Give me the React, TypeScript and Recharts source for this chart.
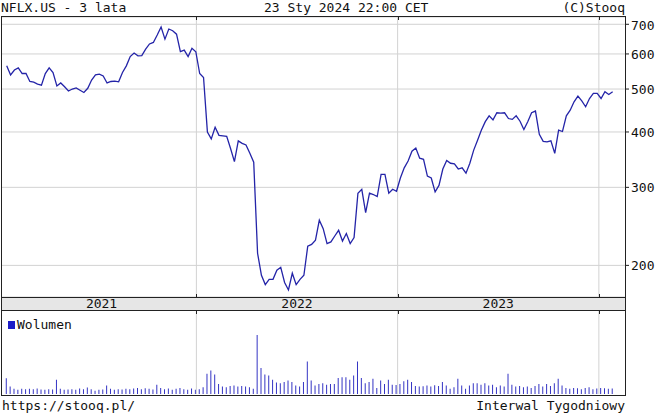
import { LineChart, Line, BarChart, Bar, XAxis, YAxis, CartesianGrid, ReferenceLine } from 'recharts';

// tygodniowe notowania NFLX, pierwszy tydzień 22.01.2021
const START = Date.UTC(2021, 0, 22);
const WEEK = 7 * 24 * 3600 * 1000;

// kursy zamknięcia (USD)
const closes = [
  564, 538, 552, 558, 542, 542, 520, 518, 513, 510, 542, 558, 545, 508, 516, 506, 495, 500, 503, 497,
  491, 502, 524, 538, 540, 535, 516, 520, 521, 519, 545, 564, 592, 603, 594, 595, 615, 632, 637, 662,
  690, 648, 683, 677, 665, 607, 612, 592, 618, 607, 542, 531, 400, 386, 410, 393, 392, 391, 367, 343,
  382, 377, 374, 358, 342, 213, 190, 181, 186, 186, 195, 198, 183, 176, 192, 181, 186, 190, 221, 223,
  228, 253, 242, 224, 226, 233, 240, 227, 236, 224, 231, 291, 297, 263, 291, 289, 286, 321, 321, 291,
  297, 294, 315, 332, 344, 362, 368, 349, 347, 318, 315, 293, 303, 330, 345, 340, 339, 330, 332, 323,
  340, 364, 383, 404, 422, 435, 426, 442, 441, 442, 429, 427, 435, 423, 405, 422, 442, 446, 395, 381,
  380, 382, 358, 404, 401, 435, 448, 468, 482, 470, 456, 476, 489, 489, 476, 493, 486, 493,
];

// wolumen tygodniowy (mln szt.)
const volumes = [
  61, 29, 20, 16, 20, 18, 20, 18, 21, 17, 16, 18, 17, 55, 20, 16, 17, 18, 16, 21,
  18, 25, 18, 13, 16, 17, 33, 20, 16, 18, 17, 20, 18, 21, 23, 18, 22, 20, 17, 36,
  23, 18, 21, 16, 20, 23, 18, 16, 21, 16, 18, 26, 78, 91, 75, 39, 29, 26, 31, 33,
  29, 31, 29, 26, 20, 228, 101, 75, 72, 55, 44, 42, 46, 52, 46, 33, 29, 46, 126, 52,
  33, 39, 42, 36, 39, 39, 62, 65, 65, 55, 72, 126, 62, 42, 46, 59, 23, 52, 39, 55,
  36, 35, 39, 49, 55, 46, 31, 29, 30, 33, 29, 34, 31, 46, 33, 20, 26, 59, 33, 20,
  33, 42, 42, 36, 42, 33, 36, 26, 33, 29, 78, 36, 29, 31, 26, 29, 23, 31, 39, 29,
  39, 31, 42, 59, 33, 23, 20, 23, 22, 18, 23, 26, 18, 21, 23, 22, 20, 21,
];

const priceTicks = [200, 300, 400, 500, 600, 700];
const yearLabels = ['2021', '2022', '2023'];
const yearStarts = ['2022-01-01', '2023-01-01', '2024-01-01'];

const rows = closes.map((c, i) => ({ t: START + i * WEEK, close: c, vol: volumes[i] }));

const X_DOMAIN = [START - 1.22 * WEEK, START + 160.2 * WEEK];
const PLOT_LEFT = 2;
const PLOT_W = 623;
const FONT = '"DejaVu Sans Mono", monospace';
const GRID = '#d2d2d2';
const DARK = '#222';

const boundaries = yearStarts.map((d) => Date.parse(d));
const xPx = (t: number) => PLOT_LEFT + ((t - X_DOMAIN[0]) / (X_DOMAIN[1] - X_DOMAIN[0])) * PLOT_W;

// środki etykiet lat
const labelCenters = yearLabels.map((_, i) => {
  const from = i === 0 ? rows[0].t : boundaries[i - 1];
  return (xPx(from) + xPx(boundaries[i])) / 2;
});

const abs = (s: React.CSSProperties): React.CSSProperties => ({ position: 'absolute', ...s });

export default function App() {
  return (
    <div style={{ position: 'fixed', left: 0, top: 0, width: 655, height: 416, background: '#fff', fontFamily: FONT, fontSize: 13, color: '#111' }}>
      {/* nagłówek */}
      <div style={abs({ left: 1, top: 0, lineHeight: '16px' })}>NFLX.US - 3 lata</div>
      <div style={abs({ left: 264, top: 0, lineHeight: '16px' })}>23 Sty 2024 22:00 CET</div>
      <div style={abs({ right: 30, top: 0, lineHeight: '16px' })}>(C)Stooq</div>

      {/* kurs */}
      <div style={abs({ left: PLOT_LEFT, top: 17 })}>
        <LineChart width={653} height={280} data={rows} margin={{ top: 0, right: 0, bottom: 0, left: 0 }}>
          <CartesianGrid stroke={GRID} vertical={false} />
          <XAxis dataKey="t" type="number" domain={X_DOMAIN} hide allowDataOverflow />
          <YAxis
            orientation="right"
            width={30}
            scale="log"
            domain={[169.7, 727]}
            ticks={priceTicks}
            allowDataOverflow
            axisLine={false}
            tickLine={{ stroke: DARK }}
            tickSize={4}
            tickMargin={2}
            tick={{ fill: '#111', fontSize: 13, fontFamily: FONT }}
          />
          {boundaries.map((b) => (
            <ReferenceLine key={b} x={b} stroke={GRID} />
          ))}
          <Line dataKey="close" stroke="#2424a8" strokeWidth={1.3} dot={false} isAnimationActive={false} />
        </LineChart>
      </div>

      {/* pasek lat */}
      <div style={abs({ left: 1, top: 298, width: 624, height: 12, background: '#e6e6e6' })} />
      {yearLabels.map((y, i) => (
        <div key={y} style={abs({ left: labelCenters[i] - 20, width: 40, top: 297, textAlign: 'center', lineHeight: '14px' })}>
          {y}
        </div>
      ))}

      {/* wolumen */}
      <div style={abs({ left: PLOT_LEFT, top: 311 })}>
        <BarChart width={PLOT_W} height={83} data={rows} margin={{ top: 0, right: 0, bottom: 0, left: 0 }}>
          <XAxis dataKey="t" type="number" domain={X_DOMAIN} hide allowDataOverflow />
          <YAxis hide domain={[0, 321]} />
          {boundaries.map((b) => (
            <ReferenceLine key={b} x={b} stroke={GRID} />
          ))}
          <Bar dataKey="vol" fill="#3434c4" barSize={1} isAnimationActive={false} />
        </BarChart>
      </div>
      <div style={abs({ left: 8, top: 321, width: 7, height: 8, background: '#1c1cc8' })} />
      <div style={abs({ left: 17, top: 318, lineHeight: '14px' })}>Wolumen</div>

      {/* ramki */}
      <div style={abs({ left: 1, top: 16, width: 625, height: 380, border: `1px solid ${DARK}`, boxSizing: 'border-box' })} />
      <div style={abs({ left: 1, top: 297, width: 625, height: 1, background: DARK })} />
      <div style={abs({ left: 1, top: 310, width: 625, height: 1, background: DARK })} />
      {boundaries.map((b) => {
        const x = Math.round(xPx(b));
        return [17, 294, 311].map((y) => (
          <div key={`${b}-${y}`} style={abs({ left: x, top: y, width: 1, height: 3, background: DARK })} />
        ));
      })}

      {/* stopka */}
      <div style={abs({ left: 2, top: 398, lineHeight: '16px' })}>https://stooq.pl/</div>
      <div style={abs({ right: 30, top: 398, lineHeight: '16px' })}>Interwal Tygodniowy</div>
    </div>
  );
}
